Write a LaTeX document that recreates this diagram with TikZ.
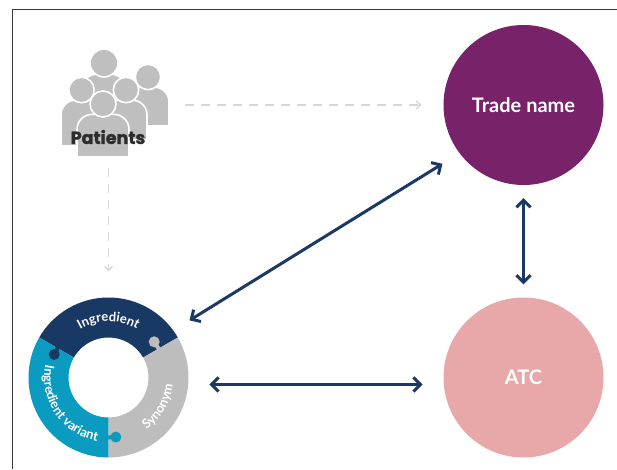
\documentclass[tikz,border=0pt]{standalone}
\usepackage{fontspec}
\setmainfont{Lato}
\newfontfamily\crowdfont{Poppins}[BoldFeatures={FakeBold=1.6}]
\usetikzlibrary{arrows.meta,calc,decorations.text}

\definecolor{tradepurple}{RGB}{120,34,106}
\definecolor{atcpink}{RGB}{232,167,168}
\definecolor{ingnavy}{RGB}{23,57,99}
\definecolor{varteal}{RGB}{12,155,192}
\definecolor{syngray}{RGB}{189,189,189}
\definecolor{linknavy}{RGB}{27,58,99}
\definecolor{hintgray}{RGB}{214,214,214}
\definecolor{crowdgray}{RGB}{191,191,191}
\definecolor{framegray}{RGB}{55,55,55}
\definecolor{crowdtext}{RGB}{45,45,45}

% one person of the crowd icon: head x, head y, head radius, half width, bottom
\newcommand{\patient}[5]{%
  \pgfmathsetmacro\shoulder{#2+0.8*#3}%
  \pgfmathsetmacro\bend{1.15*#3}%
  \filldraw[crowd] (#1-#4,#5) [rounded corners=\bend pt] -- (#1-#4,\shoulder)
    -- (#1+#4,\shoulder) [sharp corners] -- (#1+#4,#5) -- cycle;
  \filldraw[crowd] (#1,#2) circle [radius=#3];
}
\newcommand{\ringfont}{\color{white}\bfseries\fontsize{13}{15}\selectfont}

\begin{document}
\begin{tikzpicture}[
  x=1pt, y=-1pt,
  bubble/.style={circle, minimum size=160pt, inner sep=0pt, text=white,
    font=\bfseries\fontsize{20}{24}\selectfont},
  link/.style={draw=linknavy, line width=3pt,
    {Straight Barb[length=7pt,width=14pt]}-{Straight Barb[length=7pt,width=14pt]}},
  hint/.style={draw=hintgray, line width=1.3pt, dash pattern=on 9pt off 7pt,
    -{Straight Barb[length=4pt,width=8pt]}},
  crowd/.style={fill=crowdgray, draw=white, line width=1.6pt}
]
\useasboundingbox (0,0) rectangle (617,469);

\draw [framegray, line width=1.6pt] (617,9.5) -- (12.5,9.5) -- (12.5,469);

% crowd icon
\patient{104}{63}{14}{23}{120}
\patient{148}{77}{12.7}{21}{126}
\patient{81.5}{90}{12.7}{20.5}{146}
\patient{126}{90}{12.7}{21}{140}
\patient{103}{104}{13}{26}{157}
\node [text=crowdtext, inner sep=0pt,
  font=\crowdfont\bfseries\fontsize{17.5}{20}\selectfont] (pat) at (108,137) {Patients};
\coordinate (crowd-e) at (185,105);
\coordinate (crowd-s) at (108.5,168);

\node [bubble, fill=tradepurple] (trade) at (523.5,105) {Trade name};
\node [bubble, fill=atcpink, text depth=-3pt] (atc) at (523.5,377.5) {ATC};
\node [circle, minimum size=160pt, inner sep=0pt] (ring) at (108.5,377.5) {};

% ring of three pieces
\fill [ingnavy] ($(ring.center)+(-30:80)$) arc [start angle=-30, end angle=-150, radius=80]
  -- ($(ring.center)+(-150:40)$) arc [start angle=-150, end angle=-30, radius=40] -- cycle;
\fill [varteal] ($(ring.center)+(-150:80)$) arc [start angle=-150, end angle=-270, radius=80]
  -- ($(ring.center)+(-270:40)$) arc [start angle=-270, end angle=-150, radius=40] -- cycle;
\fill [syngray] ($(ring.center)+(-270:80)$) arc [start angle=-270, end angle=-390, radius=80]
  -- ($(ring.center)+(-390:40)$) arc [start angle=-390, end angle=-270, radius=40] -- cycle;

% puzzle knobs
\draw [syngray, line width=4pt] ($(ring.center)+(-27:58)$) -- ($(ring.center)+(-38:58)$);
\fill [syngray] ($(ring.center)+(-38:58)$) circle [radius=5.5];
\draw [ingnavy, line width=4pt] ($(ring.center)+(-147:59)$) -- ($(ring.center)+(-157:59)$);
\fill [ingnavy] ($(ring.center)+(-157:59)$) circle [radius=5.5];
\draw [varteal, line width=4pt] ($(ring.center)+(-267:60)$) -- ($(ring.center)+(-277:60)$);
\fill [varteal] ($(ring.center)+(-277:60)$) circle [radius=5.5];

\path [decorate, decoration={text along path, text align=center, text={|\ringfont|Ingredient}}]
  ($(ring.center)+(-150:56)$) arc [start angle=-150, end angle=-30, radius=56];
\path [decorate, decoration={text along path, text align=center, text={|\ringfont|Ingredient variant}}]
  ($(ring.center)+(-154:64.5)$) arc [start angle=-154, end angle=-274, radius=64.5];
\path [decorate, decoration={text along path, text align=center, text={|\ringfont|Synonym}}]
  ($(ring.center)+(-290:64.5)$) arc [start angle=-290, end angle=-370, radius=64.5];

% links
\draw [link, shorten <=19pt, shorten >=20pt] (ring.36) -- (trade.217);
\draw [link, shorten <=21pt, shorten >=21pt] (ring.-5) -- (atc.185);
\draw [link, shorten <=13pt, shorten >=13pt] (trade.south) -- (atc.north);

\draw [hint, shorten >=22pt] (crowd-e) -- (trade.west);
\draw [hint, shorten >=26pt] (crowd-s) -- (ring.north);

\end{tikzpicture}
\end{document}
